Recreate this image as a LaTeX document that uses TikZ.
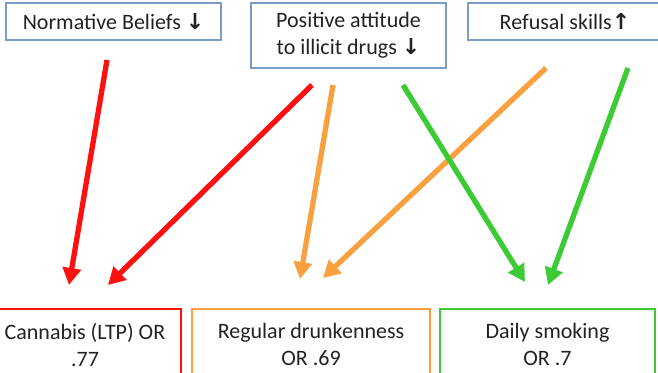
\documentclass[tikz,border=0pt]{standalone}
\usepackage{fontspec}
\setmainfont{Carlito}
\newfontfamily\arrowfont{DejaVu Sans Bold}
\usetikzlibrary{arrows.meta,calc}

\definecolor{boxblue}{HTML}{7A9CC8}
\definecolor{txtgray}{HTML}{222222}
\definecolor{cred}{HTML}{FF1010}
\definecolor{corange}{HTML}{F9A040}
\definecolor{cgreen}{HTML}{3CCB34}

\newcommand{\dn}{{\arrowfont\char"2193}}
\newcommand{\up}{{\arrowfont\char"2191}}

\begin{document}
\begin{tikzpicture}[
  x=1pt, y=1pt,
  font=\fontsize{22}{27}\selectfont,
  factor/.style={draw=boxblue, line width=1.3pt, align=center, text=txtgray, inner sep=0pt},
  outcome/.style={draw=#1, line width=1.8pt, align=center, text=txtgray, inner sep=0pt, minimum height=72pt, anchor=north},
  effect/.style={-{Triangle[length=17pt,width=18pt]}, line width=5.3pt, draw=#1}
]
\useasboundingbox (0,0) rectangle (658,372);
\clip (0,0) rectangle (658,372);

% factors
\node[factor, minimum width=215pt, minimum height=37pt] (norm) at (113.5,350.5) {Normative Beliefs \dn};
\node[factor, minimum width=195pt, minimum height=65pt] (attit) at (348.5,336.5) {Positive attitude\\to illicit drugs \dn};
\node[factor, minimum width=194pt, minimum height=37pt] (refus) at (565,350.5) {Refusal skills\up};

% outcomes
\node[outcome=cred, minimum width=192pt] (canna) at (85,64) {Cannabis (LTP) OR\\.77};
\node[outcome=corange, minimum width=238pt] (drunk) at (311,64) {Regular drunkenness\\OR .69};
\node[outcome=cgreen, minimum width=215pt] (smoke) at (547.5,64) {Daily smoking\\OR .7};

% arrow ends
\coordinate (norm-a) at (107,312);
\coordinate (attit-a) at (312,287);
\coordinate (attit-b) at (333,287);
\coordinate (attit-c) at (403,287);
\coordinate (refus-a) at (546,304);
\coordinate (refus-b) at (628,304);
\coordinate (canna-a) at (69,87);
\coordinate (canna-b) at (108,87);
\coordinate (drunk-a) at (300,93);
\coordinate (drunk-b) at (323,94);
\coordinate (smoke-a) at (525,90);
\coordinate (smoke-b) at (548,87);

\draw[effect=cred] (norm-a) -- (canna-a);
\draw[effect=cred] (attit-a) -- (canna-b);
\draw[effect=corange] (attit-b) -- (drunk-a);
\draw[effect=corange] (refus-a) -- (drunk-b);
\draw[effect=cgreen] (attit-c) -- (smoke-a);
\draw[effect=cgreen] (refus-b) -- (smoke-b);

\end{tikzpicture}
\end{document}
